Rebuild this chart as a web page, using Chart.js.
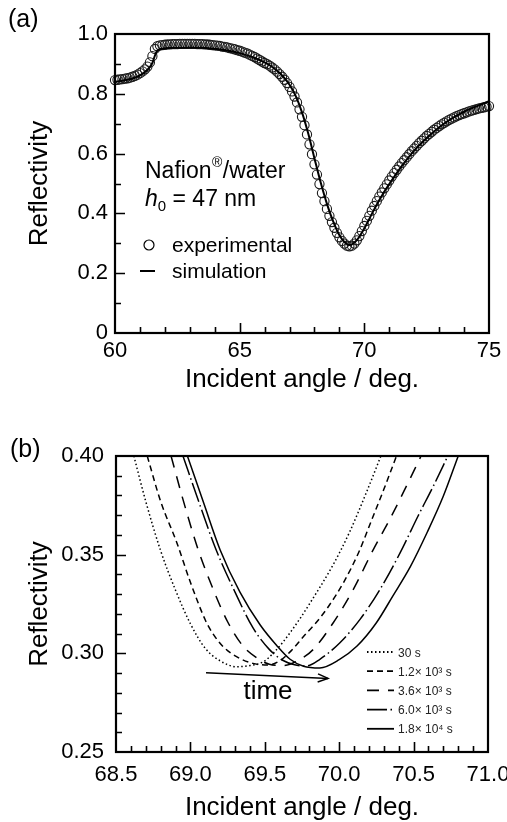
<!DOCTYPE html>
<html><head><meta charset="utf-8">
<script src="https://cdn.jsdelivr.net/npm/chart.js@4.4.1/dist/chart.umd.min.js"></script>
<style>
html,body{margin:0;padding:0;background:#fff;width:507px;height:822px;overflow:hidden}
#wa{position:absolute;left:0;top:0;width:507px;height:400px}
#wb{position:absolute;left:0;top:400px;width:507px;height:422px}
</style></head><body>
<div id="wa"><canvas id="ca"></canvas></div>
<div id="wb"><canvas id="cb"></canvas></div>
<script>
// ===================== DATA: panel (a) =====================
const expAngle = [60.0,60.1,60.2,60.3,60.4,60.5,60.6,60.7,60.8,60.9,
61.0,61.1,61.2,61.3,61.4,61.5,61.6,61.7,61.8,61.9,
62.0,62.1,62.2,62.3,62.4,62.5,62.6,62.7,62.8,62.9,
63.0,63.1,63.2,63.3,63.4,63.5,63.6,63.7,63.8,63.9,
64.0,64.1,64.2,64.3,64.4,64.5,64.6,64.7,64.8,64.9,
65.0,65.1,65.2,65.3,65.4,65.5,65.6,65.7,65.8,65.9,
66.0,66.1,66.2,66.3,66.4,66.5,66.6,66.7,66.8,66.9,
67.0,67.1,67.2,67.3,67.4,67.5,67.6,67.7,67.8,67.9,
68.0,68.1,68.2,68.3,68.4,68.5,68.6,68.7,68.8,68.9,
69.0,69.1,69.2,69.3,69.4,69.5,69.6,69.7,69.8,69.9,
70.0,70.1,70.2,70.3,70.4,70.5,70.6,70.7,70.8,70.9,
71.0,71.1,71.2,71.3,71.4,71.5,71.6,71.7,71.8,71.9,
72.0,72.1,72.2,72.3,72.4,72.5,72.6,72.7,72.8,72.9,
73.0,73.1,73.2,73.3,73.4,73.5,73.6,73.7,73.8,73.9,
74.0,74.1,74.2,74.3,74.4,74.5,74.6,74.7,74.8,74.9,75.0];
const expRefl = [0.846,0.847,0.848,0.849,0.851,0.852,0.854,0.857,0.860,0.864,
0.869,0.875,0.882,0.891,0.905,0.926,0.950,0.959,0.962,0.963,
0.964,0.965,0.965,0.966,0.966,0.966,0.967,0.967,0.967,0.967,
0.967,0.967,0.967,0.966,0.966,0.966,0.965,0.965,0.964,0.963,
0.962,0.961,0.960,0.958,0.957,0.955,0.953,0.951,0.949,0.946,
0.944,0.941,0.938,0.935,0.931,0.927,0.923,0.918,0.913,0.908,
0.903,0.899,0.894,0.888,0.882,0.874,0.866,0.857,0.847,0.836,
0.823,0.808,0.791,0.771,0.748,0.723,0.695,0.664,0.631,0.598,
0.564,0.530,0.498,0.468,0.441,0.415,0.392,0.371,0.352,0.335,
0.320,0.308,0.299,0.292,0.290,0.292,0.299,0.310,0.324,0.341,
0.358,0.375,0.392,0.409,0.425,0.441,0.456,0.470,0.484,0.497,
0.510,0.523,0.535,0.546,0.557,0.568,0.578,0.588,0.598,0.608,
0.617,0.626,0.635,0.643,0.651,0.659,0.666,0.673,0.680,0.686,
0.692,0.698,0.703,0.708,0.713,0.717,0.721,0.725,0.729,0.732,
0.735,0.738,0.741,0.744,0.746,0.749,0.751,0.753,0.755,0.757,0.759];
const simAngle = [60,60.25,60.5,60.75,61,61.25,61.5,61.6,61.7,61.8,62,62.5,63,63.5,64,64.5,65,65.5,66,66.25,66.5,66.75,67,67.25,67.5,67.75,68,68.25,68.5,68.75,69,69.25,69.4,69.5,69.75,70,70.25,70.5,70.75,71,71.5,72,72.5,73,73.5,74,74.5,75];
const simRefl = [0.840,0.843,0.847,0.853,0.862,0.876,0.903,0.928,0.944,0.949,0.952,0.954,0.955,0.954,0.951,0.945,0.936,0.923,0.905,0.893,0.877,0.857,0.830,0.792,0.738,0.667,0.584,0.503,0.432,0.373,0.327,0.300,0.294,0.296,0.316,0.350,0.390,0.430,0.466,0.498,0.558,0.610,0.652,0.688,0.717,0.740,0.758,0.775];
const xTickLabelsA = ['60','65','70','75'];
const yTickLabelsA = ['0','0.2','0.4','0.6','0.8','1.0'];
const legendLabelsA = ['experimental','simulation'];

// ===================== DATA: panel (b) =====================
const seriesNamesB = ['30 s','1.2\u00d7 10\u00b3 s','3.6\u00d7 10\u00b3 s','6.0\u00d7 10\u00b3 s','1.8\u00d7 10\u2074 s'];
const angle30s = [68.62,68.70,68.80,68.90,69.00,69.10,69.20,69.31,69.40,69.49,69.556,69.62,69.68,69.74,69.80,69.96,70.07,70.18,70.28];
const refl30s  = [0.400,0.377,0.352,0.332,0.315,0.3025,0.2962,0.2932,0.2938,0.2957,0.3000,0.3055,0.3115,0.3180,0.3250,0.3450,0.3615,0.3810,0.4000];
const angle1200s = [68.71,68.80,68.91,69.00,69.10,69.15,69.22,69.31,69.42,69.52,69.60,69.68,69.76,69.85,69.93,70.03,70.13,70.22,70.30,70.385];
const refl1200s  = [0.400,0.377,0.3558,0.336,0.3169,0.3101,0.3034,0.2983,0.2949,0.2941,0.2962,0.3015,0.3085,0.3160,0.3240,0.3360,0.3510,0.3679,0.3831,0.400];
const angle3600s = [68.87,68.95,69.05,69.15,69.25,69.35,69.45,69.53,69.62,69.72,69.826,69.96,70.095,70.23,70.34,70.43,70.55];
const refl3600s  = [0.400,0.378,0.353,0.333,0.316,0.304,0.2975,0.2945,0.2938,0.2962,0.3020,0.3155,0.3324,0.3527,0.3679,0.3814,0.400];
const angle6000s = [68.95,69.06,69.17,69.30,69.42,69.53,69.62,69.70,69.78,69.87,70.005,70.14,70.274,70.41,70.53,70.633,70.73];
const refl6000s  = [0.400,0.376,0.353,0.331,0.313,0.302,0.2965,0.2942,0.2936,0.2970,0.3054,0.3172,0.3324,0.3510,0.3696,0.3848,0.400];
const angle18000s = [68.98,69.09,69.20,69.333,69.468,69.58,69.67,69.76,69.87,70.00,70.12,70.25,70.36,70.48,70.59,70.70,70.80];
const refl18000s  = [0.400,0.376,0.3524,0.331,0.3145,0.3040,0.2970,0.2935,0.2926,0.2968,0.3037,0.3155,0.3290,0.3442,0.3611,0.3797,0.400];
const xTickLabelsB = ['68.5','69.0','69.5','70.0','70.5','71.0'];
const yTickLabelsB = ['0.25','0.30','0.35','0.40'];
const arrowStart = [69.105, 0.2902];
const arrowEnd = [69.925, 0.2873];

// ===================== helpers =====================
const FF = "'Liberation Sans', Arial, Helvetica, sans-serif";
Chart.defaults.font.family = FF;
Chart.defaults.color = '#000';
const pts = (xs, ys) => xs.map((x, i) => ({x: x, y: ys[i]}));

const frameTicks = {
  id: 'frameTicks',
  afterDatasetsDraw(chart, args, o) {
    const {ctx, chartArea: a, scales: {x, y}} = chart;
    ctx.save();
    ctx.strokeStyle = '#000';
    ctx.lineWidth = 1.6;
    ctx.beginPath();
    const nx = Math.round((x.max - x.min) / o.xMinor);
    for (let i = 1; i < nx; i++) {
      const v = x.min + i * o.xMinor;
      const r = (v - x.min) / o.xMajor;
      const len = Math.abs(r - Math.round(r)) < 1e-6 ? 10 : 6;
      const px = Math.round(x.getPixelForValue(v)) + 0.5;
      ctx.moveTo(px, a.bottom); ctx.lineTo(px, a.bottom - len);
    }
    const ny = Math.round((y.max - y.min) / o.yMinor);
    for (let i = 1; i < ny; i++) {
      const v = y.min + i * o.yMinor;
      const r = (v - y.min) / o.yMajor;
      const len = Math.abs(r - Math.round(r)) < 1e-6 ? 10 : 6;
      const py = Math.round(y.getPixelForValue(v)) + 0.5;
      ctx.moveTo(a.left, py); ctx.lineTo(a.left + len, py);
    }
    ctx.stroke();
    ctx.lineWidth = 2.2;
    ctx.strokeRect(a.left, a.top, a.right - a.left, a.bottom - a.top);
    ctx.restore();
  }
};

function axes(xmin, xmax, xstep, xlabels, ymin, ymax, ystep, ylabels, yW, xH, xPad, yPad) {
  return {
    x: {
      type: 'linear', min: xmin, max: xmax,
      grid: {display: false, drawTicks: false},
      border: {display: false},
      ticks: {stepSize: xstep, padding: xPad, font: {size: 22}, color: '#000', maxRotation: 0,
              autoSkip: false, callback: (v, i) => xlabels[i]},
      title: {display: true, text: 'Incident angle / deg.', font: {size: 26, lineHeight: 1.0}, padding: 0, color: '#000'},
      afterFit: s => { s.height = xH; s.paddingLeft = 0; s.paddingRight = 0; }
    },
    y: {
      type: 'linear', min: ymin, max: ymax,
      grid: {display: false, drawTicks: false},
      border: {display: false},
      ticks: {stepSize: ystep, padding: yPad, font: {size: 22}, color: '#000',
              autoSkip: false, callback: (v, i) => ylabels[i]},
      title: {display: true, text: 'Reflectivity', font: {size: 26, lineHeight: 1.0}, padding: 0, color: '#000'},
      afterFit: s => { s.width = yW; s.paddingTop = 0; s.paddingBottom = 0; }
    }
  };
}

// ===================== panel (a) =====================
const annotA = {
  id: 'annotA',
  afterDraw(chart) {
    const ctx = chart.ctx;
    ctx.save();
    ctx.fillStyle = '#000';
    ctx.textBaseline = 'alphabetic';
    ctx.font = '25px ' + FF;
    ctx.fillText('(a)', 8, 27);
    ctx.font = '23px ' + FF;
    let x = 145;
    ctx.fillText('Nafion', x, 178); x += ctx.measureText('Nafion').width;
    ctx.font = '14px ' + FF;
    ctx.fillText('\u00ae', x + 0.5, 167); x += ctx.measureText('\u00ae').width + 1;
    ctx.font = '23px ' + FF;
    ctx.fillText('/water', x, 178);
    x = 145;
    ctx.font = 'italic 23px ' + FF;
    ctx.fillText('h', x, 206); x += ctx.measureText('h').width;
    ctx.font = '15px ' + FF;
    ctx.fillText('0', x, 211); x += ctx.measureText('0').width;
    ctx.font = '23px ' + FF;
    ctx.fillText(' = 47 nm', x, 206);
    ctx.strokeStyle = '#000';
    ctx.lineWidth = 1.2;
    ctx.beginPath(); ctx.arc(149, 245, 5, 0, Math.PI * 2); ctx.stroke();
    ctx.lineWidth = 2;
    ctx.beginPath(); ctx.moveTo(140, 271); ctx.lineTo(155, 271); ctx.stroke();
    ctx.font = '21px ' + FF;
    ctx.fillText(legendLabelsA[0], 172, 252);
    ctx.fillText(legendLabelsA[1], 172, 278);
    ctx.restore();
  }
};

new Chart(document.getElementById('ca'), {
  type: 'scatter',
  data: {
    datasets: [
      {label: legendLabelsA[1], data: pts(simAngle, simRefl), showLine: true, borderColor: '#000',
       borderWidth: 2, pointRadius: 0, cubicInterpolationMode: 'monotone', order: 0},
      {label: legendLabelsA[0], data: pts(expAngle, expRefl), showLine: false, pointRadius: 4.6,
       pointStyle: 'circle', pointBorderWidth: 1.1, borderColor: '#1a1a1a', pointBorderColor: '#1a1a1a',
       backgroundColor: 'rgba(0,0,0,0)', pointBackgroundColor: 'rgba(0,0,0,0)', clip: 8, order: 1}
    ]
  },
  options: {
    responsive: true, maintainAspectRatio: false, animation: false, devicePixelRatio: 1, events: [],
    layout: {padding: {left: 27, right: 18, top: 34, bottom: 7}},
    plugins: {legend: {display: false}, tooltip: {enabled: false}, title: {display: false},
              frameTicks: {xMinor: 1, xMajor: 5, yMinor: 0.1, yMajor: 0.2}},
    scales: axes(60, 75, 5, xTickLabelsA, 0, 1, 0.2, yTickLabelsA, 88, 60, 5, 7)
  },
  plugins: [frameTicks, annotA]
});

// ===================== panel (b) =====================
const dashesB = [[1.5, 2.5], [6, 4], [12, 9], [20, 3.5, 1.5, 3.5], []];
const annotB = {
  id: 'annotB',
  afterDraw(chart) {
    const {ctx, scales: {x, y}} = chart;
    ctx.save();
    ctx.fillStyle = '#000';
    ctx.textBaseline = 'alphabetic';
    ctx.font = '25px ' + FF;
    ctx.fillText('(b)', 10, 57);
    const x0 = x.getPixelForValue(arrowStart[0]), y0 = y.getPixelForValue(arrowStart[1]);
    const x1 = x.getPixelForValue(arrowEnd[0]), y1 = y.getPixelForValue(arrowEnd[1]);
    ctx.strokeStyle = '#000'; ctx.lineWidth = 1.5;
    ctx.beginPath(); ctx.moveTo(x0, y0); ctx.lineTo(x1, y1); ctx.stroke();
    const ang = Math.atan2(y1 - y0, x1 - x0);
    ctx.beginPath();
    ctx.moveTo(x1 - 11 * Math.cos(ang - 0.38), y1 - 11 * Math.sin(ang - 0.38));
    ctx.lineTo(x1, y1);
    ctx.lineTo(x1 - 11 * Math.cos(ang + 0.38), y1 - 11 * Math.sin(ang + 0.38));
    ctx.stroke();
    ctx.font = '26px ' + FF;
    ctx.textAlign = 'center';
    ctx.fillText('time', 268, 299);
    ctx.textAlign = 'left';
    ctx.font = '12px ' + FF;
    for (let i = 0; i < seriesNamesB.length; i++) {
      const cy = 252 + i * 19.2;
      ctx.save();
      ctx.setLineDash(dashesB[i]);
      ctx.lineWidth = 1.8;
      ctx.beginPath(); ctx.moveTo(367, cy); ctx.lineTo(394, cy); ctx.stroke();
      ctx.restore();
      ctx.fillStyle = '#222';
      ctx.fillText(seriesNamesB[i], 398, cy + 4.5);
    }
    ctx.restore();
  }
};

const bSeries = [[angle30s, refl30s], [angle1200s, refl1200s], [angle3600s, refl3600s], [angle6000s, refl6000s], [angle18000s, refl18000s]];
new Chart(document.getElementById('cb'), {
  type: 'scatter',
  data: {
    datasets: bSeries.map((s, i) => ({
      label: seriesNamesB[i], data: pts(s[0], s[1]), showLine: true, borderColor: '#000',
      borderWidth: 1.5, borderDash: dashesB[i], borderCapStyle: 'butt', pointRadius: 0,
      cubicInterpolationMode: 'monotone'
    }))
  },
  options: {
    responsive: true, maintainAspectRatio: false, animation: false, devicePixelRatio: 1, events: [],
    layout: {padding: {left: 27, right: 19, top: 56, bottom: 1}},
    plugins: {legend: {display: false}, tooltip: {enabled: false}, title: {display: false},
              frameTicks: {xMinor: 0.1, xMajor: 0.5, yMinor: 0.01, yMajor: 0.05}},
    scales: axes(68.5, 71.0, 0.5, xTickLabelsB, 0.25, 0.40, 0.05, yTickLabelsB, 89, 69, 10, 12)
  },
  plugins: [frameTicks, annotB]
});
</script>
</body></html>
